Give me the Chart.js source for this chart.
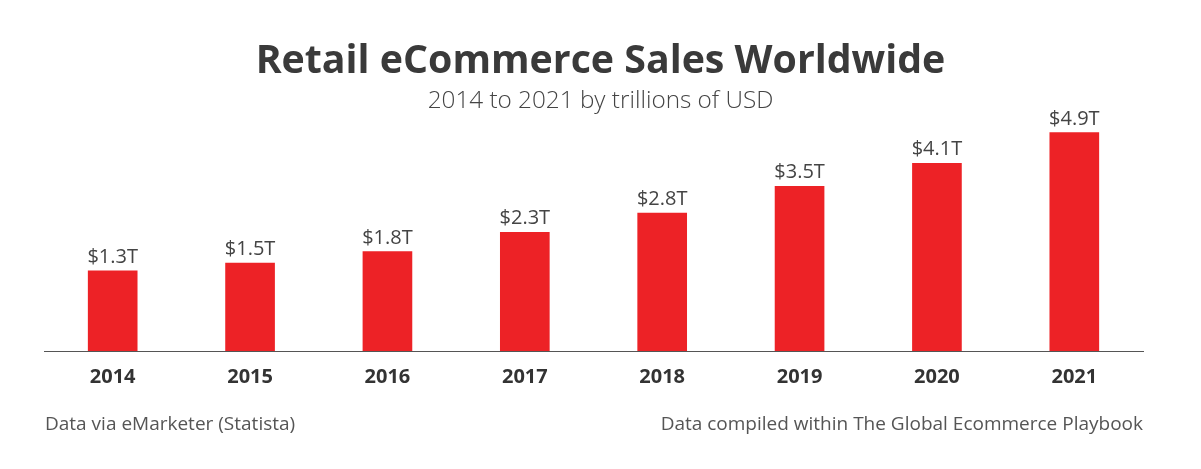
<!DOCTYPE html>
<html>
<head>
<meta charset="utf-8">
<script src="https://cdn.jsdelivr.net/npm/chart.js@4/dist/chart.umd.min.js"></script>
<style>
  html, body { margin: 0; padding: 0; background: #fff; }
  #wrap { position: relative; width: 1201px; height: 469px; overflow: hidden; font-family: "Open Sans", sans-serif; }
  #c { position: absolute; left: 0; top: 0; }
  .t { position: absolute; white-space: nowrap; }
  #title { left: 0; width: 1201px; text-align: center; top: 33px; font-size: 39.3px; font-weight: 700; color: #3a3a3a; line-height: 50px; }
  #sub { left: 0; width: 1201px; text-align: center; top: 84px; font-size: 24.3px; font-weight: 300; color: #444; line-height: 30px; }
  #fl { left: 45px; top: 410px; font-size: 19px; color: #555; line-height: 26px; }
  #fr { right: 58px; top: 410px; font-size: 19px; color: #555; line-height: 26px; }
</style>
</head>
<body>
<div id="wrap">
  <canvas id="c" width="1201" height="469"></canvas>
  <div class="t" id="title">Retail eCommerce Sales Worldwide</div>
  <div class="t" id="sub">2014 to 2021 by trillions of USD</div>
  <div class="t" id="fl">Data via eMarketer (Statista)</div>
  <div class="t" id="fr">Data compiled within The Global Ecommerce Playbook</div>
</div>
<script>
const years = ['2014', '2015', '2016', '2017', '2018', '2019', '2020', '2021'];
const sales = [1.3, 1.5, 1.8, 2.3, 2.8, 3.5, 4.1, 4.9];
const valueLabels = ['$1.3T', '$1.5T', '$1.8T', '$2.3T', '$2.8T', '$3.5T', '$4.1T', '$4.9T'];
const axisMin = -0.79;
const axisMax = 5.226;

const barLabels = {
  id: 'barLabels',
  afterDatasetsDraw(chart) {
    const ctx = chart.ctx;
    const meta = chart.getDatasetMeta(0);
    ctx.save();
    ctx.font = '400 20px "Open Sans"';
    ctx.fillStyle = '#444';
    ctx.textAlign = 'center';
    ctx.textBaseline = 'alphabetic';
    meta.data.forEach((bar, i) => {
      ctx.fillText(valueLabels[i], bar.x, bar.y - 8);
    });
    ctx.restore();
  }
};

new Chart(document.getElementById('c'), {
  type: 'bar',
  data: {
    labels: years,
    datasets: [{
      data: sales,
      base: axisMin,
      backgroundColor: '#ed2226',
      borderWidth: 0,
      barThickness: 49
    }]
  },
  options: {
    responsive: false,
    animation: false,
    devicePixelRatio: 1,
    layout: { padding: { left: 44, right: 58, top: 120, bottom: 0 } },
    plugins: { legend: { display: false }, tooltip: { enabled: false } },
    scales: {
      x: {
        grid: { display: false, drawTicks: false },
        border: { display: true, color: '#555', width: 1 },
        ticks: { color: '#333', font: { family: 'Open Sans', size: 20, weight: '700' }, padding: 14 },
        afterFit(scale) { scale.height = 118; }
      },
      y: {
        display: false,
        min: axisMin,
        max: axisMax
      }
    }
  },
  plugins: [barLabels]
});
</script>
</body>
</html>
